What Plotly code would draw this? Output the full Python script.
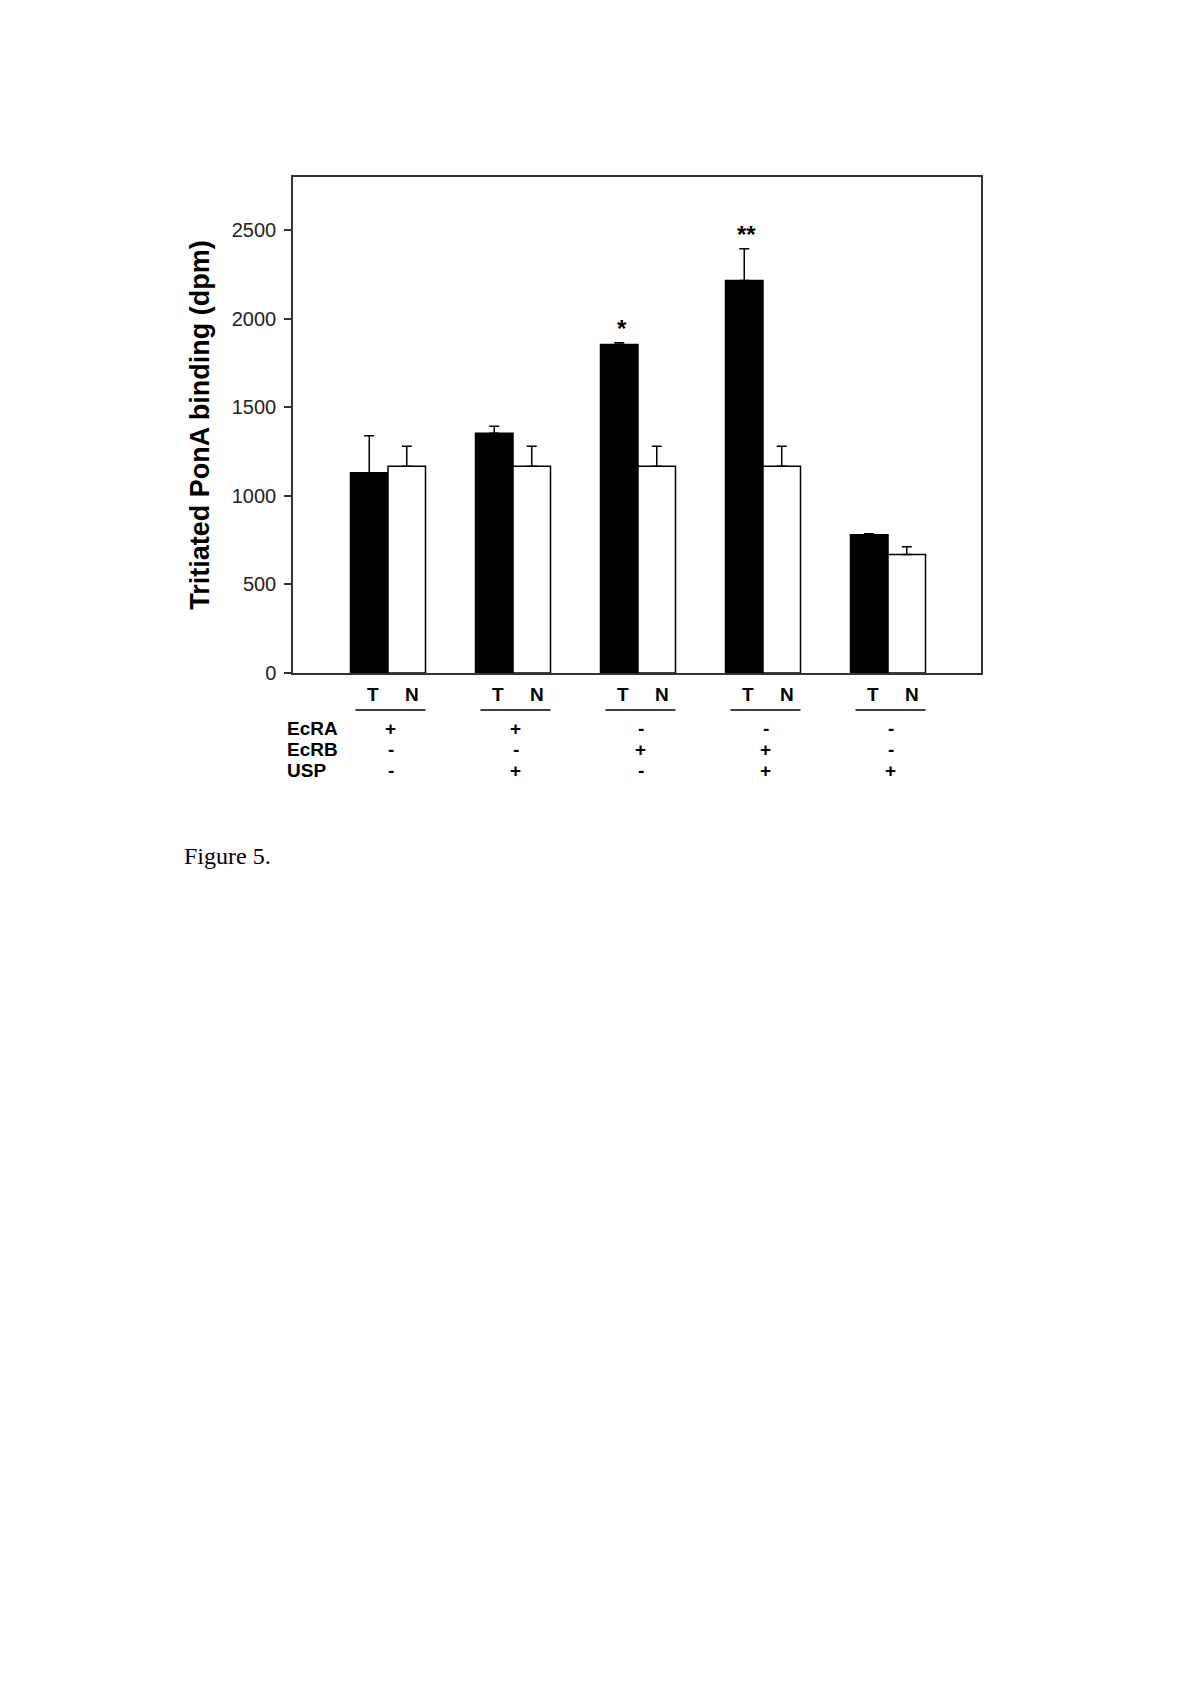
import plotly.graph_objects as go

# ---- data ----
group_idx = [0, 1, 2, 3, 4]
T_values = [1130, 1353, 1855, 2216, 780]
T_err = [210, 40, 10, 179, 6]
N_values = [1167, 1167, 1167, 1167, 669]
N_err = [113, 113, 113, 113, 43]
EcRA = ["+", "+", "-", "-", "-"]
EcRB = ["-", "-", "+", "+", "-"]
USP = ["-", "+", "-", "+", "+"]
stars = ["", "", "*", "**", ""]
y_ticks = [0, 500, 1000, 1500, 2000, 2500]

OFF = 7  # page body margin compensation
W, H = 1200 - 2 * OFF, 1697 - 2 * OFF
L, R, T, B = 292 - OFF, 980 - OFF, 176 - OFF, 672 - OFF
pw, ph = R - L, B - T

def py(p):  # page pixel y -> paper
    return (B - (p - OFF)) / ph

def px(p):  # page pixel x -> paper
    return ((p - OFF) - L) / pw

fig = go.Figure()
fig.add_trace(go.Bar(
    x=group_idx, y=T_values, name="T",
    marker=dict(color="black", line=dict(color="black", width=1.5)),
    error_y=dict(type="data", symmetric=False, array=T_err, arrayminus=[0]*5,
                 color="black", thickness=1.5, width=5),
))
fig.add_trace(go.Bar(
    x=group_idx, y=N_values, name="N",
    marker=dict(color="white", line=dict(color="black", width=1.5)),
    error_y=dict(type="data", symmetric=False, array=N_err, arrayminus=[0]*5,
                 color="black", thickness=1.5, width=5),
))

font_b = "Arial, 'Liberation Sans', sans-serif"
ann = []
for i, g in enumerate(group_idx):
    if stars[i]:
        ann.append(dict(x=g - 0.13, y=T_values[i] + T_err[i] + 78, xref="x", yref="y",
                        text="<b>" + stars[i] + "</b>", showarrow=False,
                        xanchor="center", yanchor="middle",
                        font=dict(family=font_b, size=24, color="black")))
    ann.append(dict(x=g - 0.12, y=py(693), xref="x", yref="paper", text="<b>T</b>",
                    xanchor="center", yanchor="middle", showarrow=False,
                    font=dict(family=font_b, size=19, color="black")))
    ann.append(dict(x=g + 0.19, y=py(693), xref="x", yref="paper", text="<b>N</b>",
                    xanchor="center", yanchor="middle", showarrow=False,
                    font=dict(family=font_b, size=19, color="black")))
    for lab, row_y in ((EcRA[i], 727), (EcRB[i], 748), (USP[i], 769)):
        ann.append(dict(x=g + 0.02, y=py(row_y), xref="x", yref="paper", text="<b>" + lab + "</b>",
                        xanchor="center", yanchor="middle", showarrow=False,
                        font=dict(family=font_b, size=19, color="black")))
    fig.add_shape(type="line", xref="x", yref="paper", x0=g - 0.26, x1=g + 0.3,
                  y0=py(709), y1=py(709), line=dict(color="black", width=1.5))

for name, row_y in (("EcRA", 727), ("EcRB", 748), ("USP", 769)):
    ann.append(dict(x=px(284), y=py(row_y), xref="paper", yref="paper", text="<b>" + name + "</b>",
                    xanchor="left", yanchor="middle", showarrow=False,
                    font=dict(family=font_b, size=19, color="black")))

ann.append(dict(x=px(181), y=py(855), xref="paper", yref="paper", text="Figure 5.",
                xanchor="left", yanchor="middle", showarrow=False,
                font=dict(family="'Times New Roman', 'Liberation Serif', serif", size=24, color="black")))

fig.update_layout(
    width=W, height=H,
    margin=dict(l=L, r=W - R, t=T, b=H - B, pad=0),
    paper_bgcolor="white", plot_bgcolor="white",
    barmode="group", bargap=0.4, bargroupgap=0,
    showlegend=False,
    annotations=ann,
)
fig.update_xaxes(range=[-0.76, 4.744], showticklabels=False, ticks="", showgrid=False,
                 zeroline=False, showline=True, mirror=True, linecolor="#333", linewidth=1.5)
fig.update_yaxes(range=[0, 2800], tickvals=y_ticks, ticks="outside", ticklen=7, tickwidth=1.5,
                 tickcolor="#333", showgrid=False, zeroline=False, showline=True, mirror=True,
                 linecolor="#333", linewidth=1.5, ticklabelstandoff=4,
                 tickfont=dict(family="Arial, 'Liberation Sans', sans-serif", size=20, color="#222"),
                 title=dict(text="<b>Tritiated PonA binding (dpm)</b>", standoff=14,
                            font=dict(family=font_b, size=27, color="black")))

fig.write_html("out.html")
